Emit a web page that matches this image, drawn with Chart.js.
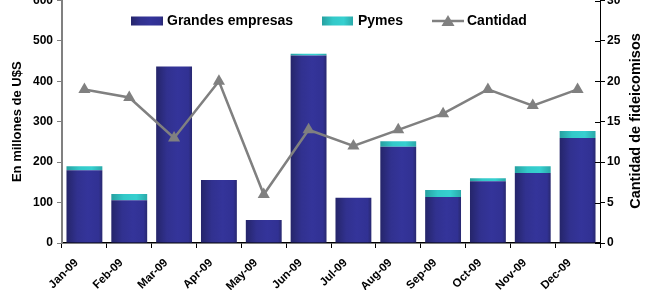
<!DOCTYPE html>
<html>
<head>
<meta charset="utf-8">
<script src="https://cdn.jsdelivr.net/npm/chart.js@4"></script>
<style>
html,body{margin:0;padding:0;background:#fff;overflow:hidden;width:645px;height:290px;}
#wrap{position:absolute;left:0;top:-11px;width:645px;height:301px;}
</style>
</head>
<body>
<div id="wrap"><canvas id="c"></canvas></div>
<script>
const categories = ["Jan-09","Feb-09","Mar-09","Apr-09","May-09","Jun-09","Jul-09","Aug-09","Sep-09","Oct-09","Nov-09","Dec-09"];
const grandesEmpresas = [180,106,437,156,57,464,112,238,114,153,173,260];
const pymes = [10,15,0,0,0,4,0,14,17,7,17,17];
const cantidad = [19,18,13,20,6,14,12,14,16,19,17,19];
const leftTicks = [0,100,200,300,400,500,600];
const rightTicks = [0,5,10,15,20,25,30];

const FONT = "'Liberation Sans', Arial, sans-serif";

function barGradient(ctx, stops){
  const chart = ctx.chart;
  const xs = chart.scales && chart.scales.x;
  if (!xs || !chart.chartArea) return stops[1][1];
  const cx = xs.getPixelForValue(ctx.dataIndex);
  const half = xs.width / categories.length * 0.8 / 2;
  const g = chart.ctx.createLinearGradient(cx - half, 0, cx + half, 0);
  stops.forEach(s => g.addColorStop(s[0], s[1]));
  return g;
}
const navyStops = [[0,'#25256a'],[0.3,'#31318f'],[0.6,'#34349a'],[0.9,'#313193'],[1,'#28286f']];
const tealStops = [[0,'#26a0a0'],[0.35,'#33c9c9'],[0.7,'#36d0d0'],[1,'#2aa9a9']];

const legendPlugin = {
  id: 'customLegend',
  afterDraw(chart){
    const c = chart.ctx;
    c.save();
    const y = 32;
    let g = c.createLinearGradient(131,0,163,0);
    navyStops.forEach(s=>g.addColorStop(s[0],s[1]));
    c.fillStyle = g; c.fillRect(131, y-4.5, 32, 9);
    g = c.createLinearGradient(322,0,353,0);
    tealStops.forEach(s=>g.addColorStop(s[0],s[1]));
    c.fillStyle = g; c.fillRect(322, y-4.5, 31, 9);
    c.strokeStyle = '#808080'; c.lineWidth = 2.5;
    c.beginPath(); c.moveTo(432, y); c.lineTo(464, y); c.stroke();
    c.fillStyle = '#808080';
    c.beginPath(); c.moveTo(448, y-6); c.lineTo(454.5, y+5); c.lineTo(441.5, y+5); c.closePath(); c.fill();
    c.fillStyle = '#000';
    c.font = 'bold 14px ' + FONT;
    c.textBaseline = 'middle'; c.textAlign = 'left';
    c.fillText('Grandes empresas', 167, y);
    c.fillText('Pymes', 358, y);
    c.fillText('Cantidad', 467, y);
    c.translate(636, 132);
    c.rotate(-Math.PI/2);
    c.textAlign = 'center';
    c.font = 'bold 14.5px ' + FONT;
    c.fillText('Cantidad de fideicomisos', 0, 0);
    c.restore();
    const r = chart.scales.y1;
    c.save();
    c.strokeStyle = '#000'; c.lineWidth = 1;
    rightTicks.forEach(v=>{
      const py = Math.round(r.getPixelForValue(v)) + 0.5;
      c.beginPath(); c.moveTo(r.left - 5, py); c.lineTo(r.left, py); c.stroke();
    });
    c.restore();
  }
};

new Chart(document.getElementById('c'), {
  type: 'bar',
  data: {
    labels: categories,
    datasets: [
      {
        type: 'line',
        label: 'Cantidad',
        data: cantidad,
        yAxisID: 'y1',
        borderColor: '#808080',
        backgroundColor: '#808080',
        borderWidth: 2.5,
        pointStyle: 'triangle',
        pointRadius: 7,
        pointBorderWidth: 0,
        tension: 0,
        order: 0
      },
      {
        label: 'Grandes empresas',
        data: grandesEmpresas,
        yAxisID: 'y',
        stack: 's',
        backgroundColor: ctx => barGradient(ctx, navyStops),
        borderWidth: 0,
        barPercentage: 0.8,
        categoryPercentage: 1,
        order: 1
      },
      {
        label: 'Pymes',
        data: pymes,
        yAxisID: 'y',
        stack: 's',
        backgroundColor: ctx => barGradient(ctx, tealStops),
        borderWidth: 0,
        barPercentage: 0.8,
        categoryPercentage: 1,
        order: 1
      }
    ]
  },
  options: {
    responsive: true,
    maintainAspectRatio: false,
    devicePixelRatio: 1,
    animation: false,
    layout: { padding: { top: 11.5, left: 0, right: 0, bottom: 0 } },
    plugins: { legend: { display: false }, tooltip: { enabled: false } },
    scales: {
      x: {
        stacked: true,
        offset: true,
        grid: { display: true, drawOnChartArea: false, offset: true, tickLength: 5, color: '#000', lineWidth: 1 },
        border: { display: true, color: '#000', width: 1.5 },
        ticks: { color: '#000', font: { family: FONT, size: 11.5, weight: 'bold' }, minRotation: 45, maxRotation: 45, padding: 8, labelOffset: -8, autoSkip: false },
        afterFit(s){ s.height = 47; }
      },
      y: {
        position: 'left',
        stacked: true,
        min: 0, max: 600,
        afterBuildTicks(s){ s.ticks = leftTicks.map(v=>({value:v})); },
        grid: { display: true, drawOnChartArea: false, tickLength: 5, color: '#808080', lineWidth: 1 },
        border: { display: true, color: '#808080', width: 2 },
        ticks: { color: '#000', font: { family: FONT, size: 12, weight: 'bold' }, padding: 4 },
        title: { display: true, text: 'En millones de U$S', color: '#000', font: { family: FONT, size: 13, weight: 'bold' }, padding: { top: 10, bottom: 4 } },
        afterFit(s){ s.width = 62; }
      },
      y1: {
        position: 'right',
        min: 0, max: 30,
        afterBuildTicks(s){ s.ticks = rightTicks.map(v=>({value:v})); },
        grid: { display: true, drawOnChartArea: false, tickLength: 5, color: '#000', lineWidth: 1 },
        border: { display: true, color: '#000', width: 1 },
        ticks: { color: '#000', font: { family: FONT, size: 12, weight: 'bold' }, padding: 2 },
        afterFit(s){ s.width = 45; }
      }
    }
  },
  plugins: [legendPlugin]
});
</script>
</body>
</html>
